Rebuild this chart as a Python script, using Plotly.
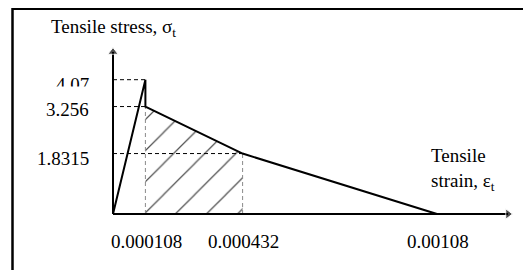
import plotly.graph_objects as go

# ---- data ----
strain = [0, 0.000108, 0.000108, 0.000432, 0.00108]     # tensile strain
stress = [0, 4.07, 3.256, 1.8315, 0]                    # tensile stress

x_ticks = [0.000108, 0.000432, 0.00108]
x_tick_labels = ["0.000108", "0.000432", "0.00108"]
y_ticks = [4.07, 3.256, 1.8315]
y_tick_labels = ["4.07", "3.256", "1.8315"]

y_title = "Tensile stress, σ<sub>t</sub>"
x_title = "Tensile<br>strain, ε<sub>t</sub>"

# ---- layout constants (page body has an 8px margin) ----
W, H = 523, 262
X_RANGE = [-0.00035, 0.00139333]
Y_RANGE = [-1.69697, 6.24242]
X_AXIS_END = 0.0013167
Y_AXIS_END = 4.909
FONT = dict(family="Liberation Serif, Times New Roman, serif", size=19, color="black")

fig = go.Figure()

# hatched softening region (between the two vertical guides)
hx = [strain[2], strain[2], strain[3], strain[3], strain[2]]
hy = [0, stress[2], stress[3], 0, 0]
fig.add_trace(go.Scatter(
    x=hx, y=hy, mode="lines", fill="toself",
    line=dict(width=0, color="rgba(0,0,0,0)"),
    fillcolor="rgba(0,0,0,0)",
    fillpattern=dict(shape="/", fgcolor="#505050", fgopacity=1, bgcolor="white", size=22, solidity=0.055),
    hoverinfo="skip", showlegend=False,
))

# horizontal dashed guides (from the stress axis to each point)
for xv, yv in [(strain[1], stress[1]), (strain[2], stress[2]), (strain[3], stress[3])]:
    fig.add_trace(go.Scatter(
        x=[0, xv], y=[yv, yv], mode="lines",
        line=dict(color="black", width=1, dash="4px,3px"),
        hoverinfo="skip", showlegend=False,
    ))

# vertical dashed guides (grey)
for xv, yv in [(strain[2], stress[2]), (strain[3], stress[3])]:
    fig.add_trace(go.Scatter(
        x=[xv, xv], y=[0, yv], mode="lines",
        line=dict(color="#8a8a8a", width=1, dash="4px,3px"),
        hoverinfo="skip", showlegend=False,
    ))

# axes with arrowheads
fig.add_trace(go.Scatter(
    x=[0, X_AXIS_END], y=[0, 0], mode="lines+markers",
    line=dict(color="black", width=2),
    marker=dict(symbol=["circle", "triangle-right"], size=[0, 9], color="black"),
    hoverinfo="skip", showlegend=False, cliponaxis=False,
))
fig.add_trace(go.Scatter(
    x=[0, 0], y=[0, Y_AXIS_END], mode="lines+markers",
    line=dict(color="black", width=2),
    marker=dict(symbol=["circle", "triangle-up"], size=[0, 9], color="black"),
    hoverinfo="skip", showlegend=False, cliponaxis=False,
))

# stress-strain curve
fig.add_trace(go.Scatter(
    x=strain, y=stress, mode="lines",
    line=dict(color="black", width=2),
    hoverinfo="skip", showlegend=False,
))

annotations = []
# y tick labels (4.07 is partly hidden behind the white box of 3.256, as in the source)
for val, lab in zip(y_ticks, y_tick_labels):
    if lab != "3.256":
        annotations.append(dict(x=0, y=val, xref="x", yref="y", text=lab, showarrow=False,
                                xanchor="right", yanchor="middle", xshift=-22, yshift=-4.5, font=FONT))
for val, lab in zip(y_ticks, y_tick_labels):
    if lab == "3.256":
        annotations.append(dict(x=0, y=val, xref="x", yref="y", text=lab, showarrow=False,
                                xanchor="right", yanchor="bottom", xshift=-22, yshift=-15.7,
                                height=32, valign="bottom", bgcolor="white", font=FONT))

# x tick labels
for val, lab in zip(x_ticks, x_tick_labels):
    annotations.append(dict(x=val, y=0, xref="x", yref="y", text=lab, showarrow=False,
                            xanchor="center", yanchor="top", xshift=1, yshift=-15.4, font=FONT))

# axis titles
annotations.append(dict(x=0, y=Y_AXIS_END, xref="x", yref="y", text=y_title, showarrow=False,
                        xanchor="center", yanchor="bottom", yshift=10, font=FONT))
annotations.append(dict(x=421 / W, y=1 - 135.4 / H, xref="paper", yref="paper", text=x_title,
                        showarrow=False, xanchor="left", yanchor="top", align="left", font=FONT))

shapes = [
    # outer frame (top and left edges)
    dict(type="line", xref="paper", yref="paper", x0=4 / W, x1=1, y0=1 - 1 / H, y1=1 - 1 / H,
         line=dict(color="black", width=2)),
    dict(type="line", xref="paper", yref="paper", x0=4.5 / W, x1=4.5 / W, y0=0, y1=1,
         line=dict(color="black", width=2.5)),
]

fig.update_layout(
    width=W, height=H, autosize=False,
    margin=dict(l=0, r=0, t=0, b=0),
    paper_bgcolor="white", plot_bgcolor="white",
    xaxis=dict(range=X_RANGE, visible=False, fixedrange=True),
    yaxis=dict(range=Y_RANGE, visible=False, fixedrange=True),
    annotations=annotations, shapes=shapes,
    showlegend=False, font=FONT,
)

fig.write_html("out.html")
